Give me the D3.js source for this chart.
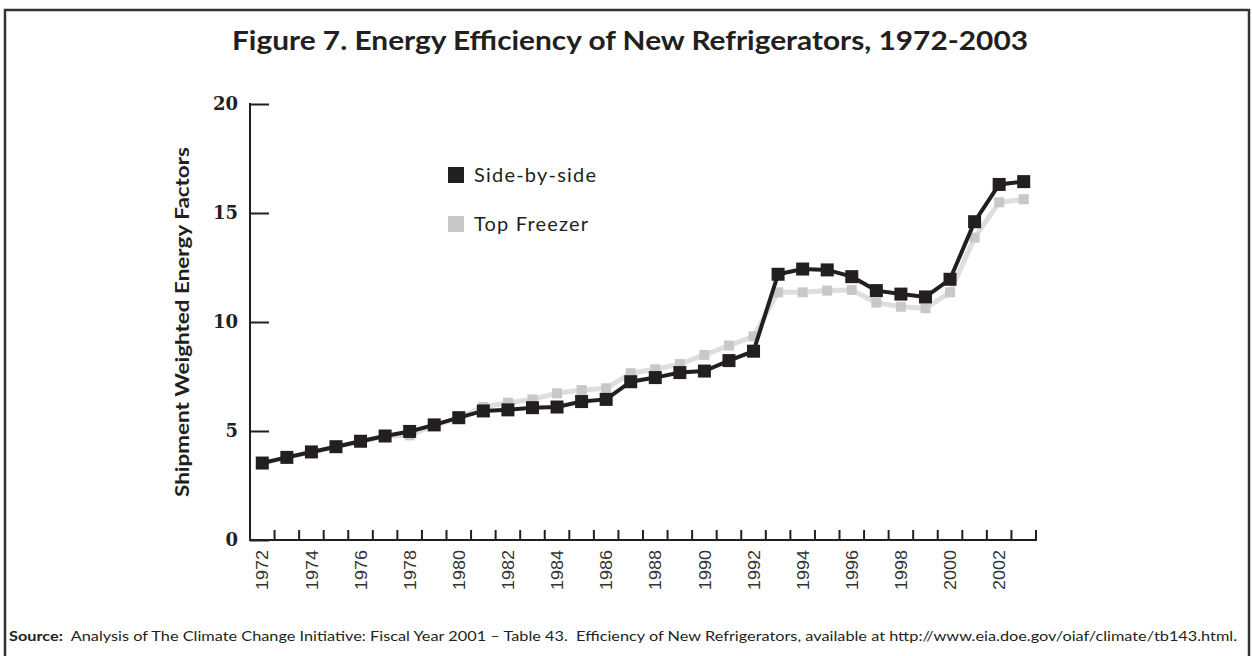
<!DOCTYPE html>
<html>
<head>
<meta charset="utf-8">
<script src="https://d3js.org/d3.v7.min.js"></script>
<style>
  body { margin: 0; background: #fff; }
</style>
</head>
<body>
<svg id="vis"></svg>

<script>
    // data
    const years = d3.range(1972, 2004)
    const sideBySide = [3.53, 3.79, 4.04, 4.28, 4.53, 4.77, 4.98, 5.28, 5.61, 5.92,
                        5.97, 6.07, 6.1, 6.35, 6.45, 7.26, 7.45, 7.68, 7.75, 8.23,
                        8.66, 12.19, 12.43, 12.39, 12.08, 11.44, 11.28, 11.15, 11.96, 14.6,
                        16.31, 16.44]
    const topFreezer = [3.5, 3.8, 4.02, 4.27, 4.52, 4.76, 4.8, 5.25, 5.6, 6.1,
                        6.3, 6.45, 6.73, 6.88, 6.96, 7.65, 7.83, 8.07, 8.49, 8.92,
                        9.34, 11.36, 11.36, 11.44, 11.47, 10.89, 10.7, 10.63, 11.36, 13.87,
                        15.49, 15.63]
    const yTicks = [0, 5, 10, 15, 20]
    const yearLabels = years.filter(d => d % 2 === 0)

    const W = 1252, H = 656
    const ink = '#231f20'
    const sans = 'Lato, "Open Sans", sans-serif'

    let svg = d3.select('#vis')
        .attr('width', W)
        .attr('height', H)

    // frame
    svg.append('rect')
        .attr('x', 5)
        .attr('y', 10)
        .attr('width', 1244)
        .attr('height', 660)
        .attr('fill', 'none')
        .attr('stroke', '#333')
        .attr('stroke-width', 2.5)

    // title
    svg.append('text')
        .attr('x', 630)
        .attr('y', 50)
        .attr('text-anchor', 'middle')
        .attr('textLength', 796)
        .attr('lengthAdjust', 'spacingAndGlyphs')
        .style('font-family', sans)
        .style('font-weight', 'bold')
        .style('font-size', '27px')
        .attr('fill', ink)
        .text('Figure 7. Energy Efficiency of New Refrigerators, 1972-2003')

    let x = d3.scaleBand()
        .domain(years)
        .range([250, 1036])

    let y = d3.scaleLinear()
        .domain([0, 20])
        .range([540, 104])

    // y axis
    let yAxis = svg.append('g')
        .attr('transform', 'translate(250,0)')
        .call(d3.axisRight(y).tickValues(yTicks).tickSize(19).tickFormat(''))
    yAxis.select('.domain').remove()
    yAxis.selectAll('line').attr('stroke', ink).attr('stroke-width', 2)

    svg.append('line')
        .attr('x1', 250).attr('x2', 250)
        .attr('y1', y(20) - 1).attr('y2', 541)
        .attr('stroke', ink)
        .attr('stroke-width', 2)

    svg.selectAll('.ylab')
        .data(yTicks)
        .enter().append('text')
        .attr('class', 'ylab')
        .attr('x', 238)
        .attr('y', d => y(d))
        .attr('dy', '0.36em')
        .attr('text-anchor', 'end')
        .style('font-family', '"DejaVu Serif", serif')
        .style('font-weight', 'bold')
        .style('font-size', '18px')
        .attr('fill', ink)
        .text(d => d)

    svg.append('text')
        .attr('transform', 'translate(189,322) rotate(-90)')
        .attr('text-anchor', 'middle')
        .attr('textLength', 350)
        .attr('lengthAdjust', 'spacingAndGlyphs')
        .style('font-family', sans)
        .style('font-weight', 'bold')
        .style('font-size', '18px')
        .attr('fill', ink)
        .text('Shipment Weighted Energy Factors')

    // x axis
    svg.append('line')
        .attr('x1', 249).attr('x2', 1037)
        .attr('y1', 540).attr('y2', 540)
        .attr('stroke', ink)
        .attr('stroke-width', 2)

    svg.selectAll('.xtick')
        .data(years.slice(1).concat([2004]))
        .enter().append('line')
        .attr('class', 'xtick')
        .attr('x1', d => d === 2004 ? x(2003) + x.bandwidth() : x(d))
        .attr('x2', d => d === 2004 ? x(2003) + x.bandwidth() : x(d))
        .attr('y1', 540)
        .attr('y2', 530)
        .attr('stroke', ink)
        .attr('stroke-width', 2)

    svg.selectAll('.xlab')
        .data(yearLabels)
        .enter().append('text')
        .attr('class', 'xlab')
        .attr('transform', d => 'translate(' + (x(d) + x.bandwidth() / 2) + ',550) rotate(-90)')
        .attr('dy', '0.36em')
        .attr('text-anchor', 'end')
        .attr('textLength', 40)
        .attr('lengthAdjust', 'spacingAndGlyphs')
        .style('font-family', '"Liberation Sans", Arial, sans-serif')
        .style('font-size', '17px')
        .attr('fill', '#333')
        .text(d => d)

    let cx = d => x(d) + x.bandwidth() / 2
    let line = d3.line()
        .x((d, i) => cx(years[i]))
        .y(d => y(d))

    // Top Freezer (drawn under)
    svg.append('path')
        .datum(topFreezer)
        .attr('d', line)
        .attr('fill', 'none')
        .attr('stroke', '#dedede')
        .attr('stroke-width', 5)

    svg.selectAll('.tf')
        .data(topFreezer)
        .enter().append('rect')
        .attr('class', 'tf')
        .attr('x', (d, i) => cx(years[i]) - 5)
        .attr('y', d => y(d) - 5)
        .attr('width', 10)
        .attr('height', 10)
        .attr('fill', '#c8c8c8')

    // Side-by-side
    svg.append('path')
        .datum(sideBySide)
        .attr('d', line)
        .attr('fill', 'none')
        .attr('stroke', ink)
        .attr('stroke-width', 4)

    svg.selectAll('.sbs')
        .data(sideBySide)
        .enter().append('rect')
        .attr('class', 'sbs')
        .attr('x', (d, i) => cx(years[i]) - 6.5)
        .attr('y', d => y(d) - 6.5)
        .attr('width', 13)
        .attr('height', 13)
        .attr('fill', ink)

    // legend
    let legend = [
        { name: 'Side-by-side', color: ink, y: 167, len: 122 },
        { name: 'Top Freezer', color: '#c8c8c8', y: 216, len: 114 }
    ]
    legend.forEach(d => {
        svg.append('rect')
            .attr('x', 448).attr('y', d.y)
            .attr('width', 16).attr('height', 16)
            .attr('fill', d.color)
        svg.append('text')
            .attr('x', 474).attr('y', d.y + 15)
            .attr('textLength', d.len)
            .attr('lengthAdjust', 'spacing')
            .style('font-family', sans)
            .style('font-size', '20px')
            .attr('fill', ink)
            .text(d.name)
    })

    // source
    let src = svg.append('text')
        .attr('x', 9)
        .attr('y', 641)
        .attr('textLength', 1228)
        .attr('lengthAdjust', 'spacingAndGlyphs')
        .style('font-family', sans)
        .style('font-size', '13px')
        .attr('fill', ink)
    src.append('tspan').style('font-weight', 'bold').text('Source:')
    src.append('tspan').text('\u00a0 Analysis of The Climate Change Initiative: Fiscal Year 2001 \u2013 Table 43.\u00a0 Efficiency of New Refrigerators, available at http://www.eia.doe.gov/oiaf/climate/tb143.html.')
</script>
</body>
</html>
